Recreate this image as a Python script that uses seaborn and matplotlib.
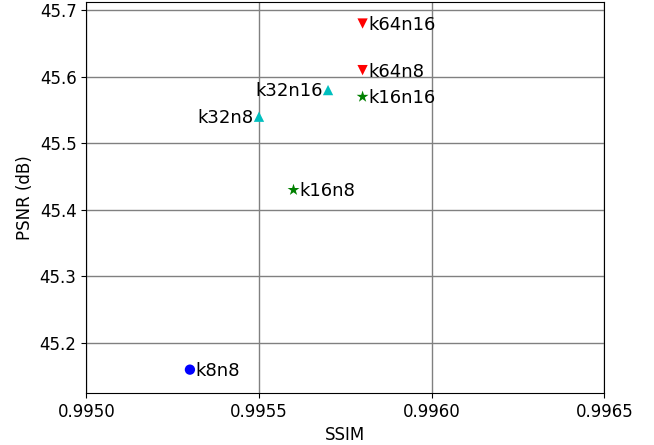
import matplotlib
matplotlib.use("Agg")
import matplotlib.pyplot as plt
import seaborn as sns
import pandas as pd

# values
labels = ["k8n8", "k16n8", "k16n16", "k32n8", "k32n16", "k64n8", "k64n16"]
ssim = [0.9953, 0.9956, 0.9958, 0.9955, 0.9957, 0.9958, 0.9958]
psnr = [45.16, 45.43, 45.57, 45.54, 45.58, 45.61, 45.68]
group = ["k8", "k16", "k16", "k32", "k32", "k64", "k64"]

group_colors = {"k8": "blue", "k16": "green", "k32": "c", "k64": "red"}
group_markers = {"k8": "o", "k16": "*", "k32": "^", "k64": "v"}
group_sizes = {"k8": 55, "k16": 80, "k32": 55, "k64": 55}
left_labels = ["k32n8", "k32n16"]

df = pd.DataFrame({"label": labels, "SSIM": ssim, "PSNR": psnr, "group": group})

fig, ax = plt.subplots(figsize=(6.54, 4.45), dpi=100)
sns.scatterplot(data=df, x="SSIM", y="PSNR", hue="group", style="group",
                size="group", sizes=group_sizes,
                palette=group_colors, markers=group_markers,
                edgecolor="none", legend=False, ax=ax, zorder=3)

for _, r in df.iterrows():
    if r["label"] in left_labels:
        ax.annotate(r["label"], (r["SSIM"], r["PSNR"]), xytext=(-4, -1),
                    textcoords="offset points", ha="right", va="center", fontsize=13)
    else:
        ax.annotate(r["label"], (r["SSIM"], r["PSNR"]), xytext=(4, -1),
                    textcoords="offset points", ha="left", va="center", fontsize=13)

ax.set_xlim(0.995, 0.9965)
ax.set_ylim(45.125, 45.712)
ax.set_xticks([0.995, 0.9955, 0.996, 0.9965])
ax.set_xticklabels(["0.9950", "0.9955", "0.9960", "0.9965"])
ax.grid(True, color="gray", linewidth=1)
ax.set_axisbelow(True)
ax.tick_params(labelsize=12)
ax.set_xlabel("SSIM", fontsize=12)
ax.set_ylabel("PSNR (dB)", fontsize=12)

fig.subplots_adjust(left=0.132, right=0.924, top=0.995, bottom=0.117)
fig.savefig("out.png", dpi=100)
